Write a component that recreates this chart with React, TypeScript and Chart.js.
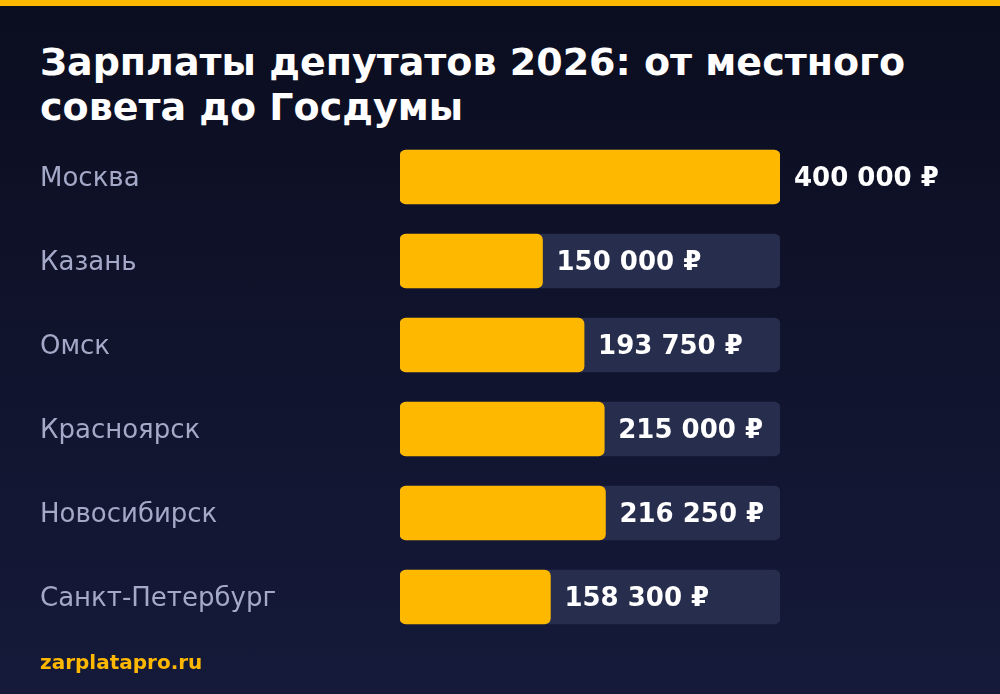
import { useEffect, useRef } from "react";
import Chart from "chart.js/auto";
import type { Plugin } from "chart.js";

const cities = ["Москва", "Казань", "Омск", "Красноярск", "Новосибирск", "Санкт-Петербург"];
const salaries = [400000, 150000, 193750, 215000, 216250, 158300];
const trackValues = [400000, 400000, 400000, 400000, 400000, 400000];
const scaleMax = 400000;

const YELLOW = "#ffb800";
const TRACK = "#272d4c";
const LABEL = "#a4a9c7";

function formatRub(v: number) {
    return v.toLocaleString("ru-RU").replace(/\s/g, " ") + " ₽";
}

const valueLabels: Plugin<"bar"> = {
    id: "valueLabels",
    afterDatasetsDraw(chart) {
        const ctx = chart.ctx;
        const meta = chart.getDatasetMeta(0);
        ctx.save();
        ctx.font = "bold 26px 'DejaVu Sans'";
        ctx.fillStyle = "#ffffff";
        ctx.textBaseline = "middle";
        ctx.textAlign = "left";
        meta.data.forEach((bar, i) => {
            const { x, y } = bar.getProps(["x", "y"], true);
            ctx.fillText(formatRub(salaries[i]), x + 14, y + 2);
        });
        ctx.restore();
    },
};

function BarChart() {
    const canvasRef = useRef<HTMLCanvasElement | null>(null);
    const chartRef = useRef<Chart | null>(null);

    useEffect(() => {
        const canvas = canvasRef.current;
        if (!canvas) {
            return;
        }
        if (chartRef.current) {
            chartRef.current.destroy();
        }

        chartRef.current = new Chart(canvas, {
            type: "bar",
            data: {
                labels: cities,
                datasets: [
                    {
                        data: salaries,
                        backgroundColor: YELLOW,
                        borderRadius: 6,
                        borderSkipped: false,
                        barThickness: 54,
                        grouped: false,
                    },
                    {
                        data: trackValues,
                        backgroundColor: TRACK,
                        borderRadius: 6,
                        borderSkipped: false,
                        barThickness: 54,
                        grouped: false,
                    },
                ],
            },
            options: {
                indexAxis: "y",
                animation: false,
                responsive: false,
                maintainAspectRatio: false,
                events: [],
                layout: {
                    padding: { left: 40, right: 220, top: 135, bottom: 55 },
                },
                scales: {
                    x: {
                        display: false,
                        min: 0,
                        max: scaleMax,
                    },
                    y: {
                        grid: { display: false },
                        border: { display: false },
                        ticks: {
                            color: LABEL,
                            crossAlign: "far",
                            padding: 0,
                            labelOffset: 2,
                            font: { family: "'DejaVu Sans'", size: 26 },
                        },
                        afterFit(scale) {
                            scale.width = 360;
                        },
                    },
                },
                plugins: {
                    legend: { display: false },
                    tooltip: { enabled: false },
                },
            },
            plugins: [valueLabels],
        });

        return () => {
            if (chartRef.current) {
                chartRef.current.destroy();
                chartRef.current = null;
            }
        };
    }, []);

    return (
        <canvas
            ref={canvasRef}
            width={1000}
            height={694}
            style={{ position: "absolute", left: 0, top: 0, width: 1000, height: 694 }}
        />
    );
}

export default function App() {
    useEffect(() => {
        document.body.style.margin = "0";
    }, []);

    return (
        <div
            style={{
                position: "relative",
                width: 1000,
                height: 694,
                overflow: "hidden",
                background: "linear-gradient(180deg, #0b0d1f 0%, #151a3a 100%)",
                fontFamily: "'DejaVu Sans', sans-serif",
            }}
        >
            <div style={{ position: "absolute", left: 0, top: 0, width: 1000, height: 6, background: YELLOW }} />
            <div
                style={{
                    position: "absolute",
                    left: 40,
                    top: 40,
                    color: "#ffffff",
                    fontWeight: "bold",
                    fontSize: 38,
                    lineHeight: "45px",
                    whiteSpace: "nowrap",
                }}
            >
                Зарплаты депутатов 2026: от местного
                <br />
                совета до Госдумы
            </div>
            <BarChart />
            <div
                style={{
                    position: "absolute",
                    left: 40,
                    top: 650,
                    color: YELLOW,
                    fontWeight: "bold",
                    fontSize: 20,
                    lineHeight: "24px",
                }}
            >
                zarplatapro.ru
            </div>
        </div>
    );
}
